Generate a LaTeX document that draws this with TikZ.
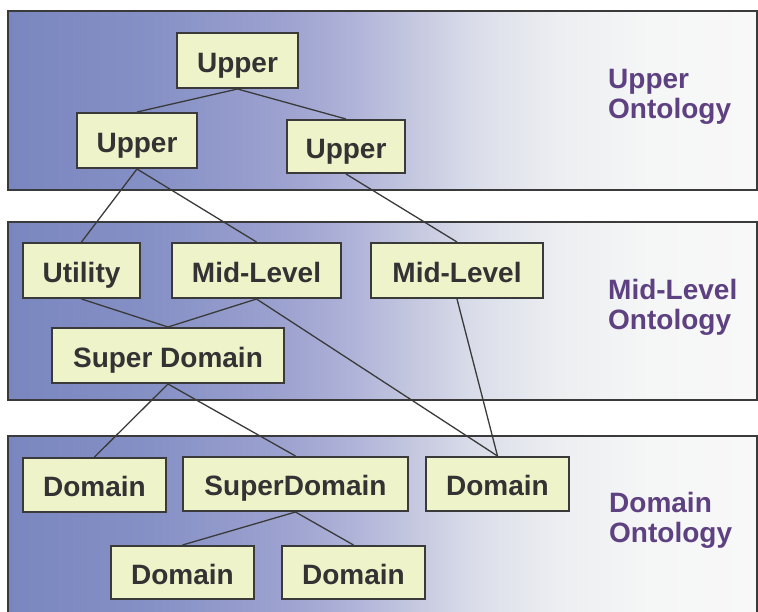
\documentclass[tikz,border=0pt]{standalone}
\usepackage{fontspec}
\setmainfont{Liberation Sans}
\definecolor{bd}{HTML}{3A3A3A}
\definecolor{nodefill}{HTML}{EEF3C9}
\definecolor{txt}{HTML}{333333}
\definecolor{lblc}{HTML}{5E4180}
\definecolor{g0}{HTML}{7A86BF}
\definecolor{g1}{HTML}{8590C5}
\definecolor{g2}{HTML}{9EA3D0}
\definecolor{g3}{HTML}{AFB2D8}
\definecolor{g4}{HTML}{C7CAE0}
\definecolor{g5}{HTML}{DCDFEA}
\definecolor{g6}{HTML}{ECEEF1}
\definecolor{g7}{HTML}{F5F6F6}
\definecolor{g8}{HTML}{F8F8F8}
\pgfdeclarehorizontalshading{bandshade}{100bp}{color(0bp)=(g0); color(25bp)=(g0); color(34.5bp)=(g1); color(43.8bp)=(g2); color(47.8bp)=(g3); color(52.5bp)=(g4); color(56.5bp)=(g5); color(61.8bp)=(g6); color(67.9bp)=(g7); color(75bp)=(g8); color(100bp)=(g8)}
\begin{document}
\begin{tikzpicture}[x=1pt,y=-1pt,
  band/.style={draw=bd, line width=2.5pt, shading=bandshade},
  box/.style={draw=bd, line width=2pt, fill=nodefill, text=txt,
    font=\fontsize{28}{30}\selectfont\bfseries, inner sep=0pt,
    text height=23.4pt, text depth=0pt, minimum height=54pt},
  lbl/.style={text=lblc, font=\fontsize{28}{30}\selectfont\bfseries,
    inner sep=0pt, align=left, anchor=base west},
  conn/.style={draw=bd, line width=1.3pt}]
\useasboundingbox (0,0) rectangle (758,611);
\begin{scope}
  \clip (0,0) rectangle (758,611);
  \path[band] (8,11) rectangle (757,190);
  \path[band] (8,222) rectangle (757,400);
  \path[band] (8,436) rectangle (757,625);
\end{scope}
% upper ontology
\node[box, minimum width=121pt, minimum height=55pt] (u0) at (237.5,60.5) {Upper};
\node[box, minimum width=120pt, minimum height=55pt] (u1) at (137,140.5) {Upper};
\node[box, minimum width=118pt, minimum height=53pt] (u2) at (346,146.5) {Upper};
% mid-level ontology
\node[box, minimum width=117pt, minimum height=55pt] (ut) at (81.5,270.5) {Utility};
\node[box, minimum width=169pt, minimum height=55pt] (m1) at (256.5,270.5) {Mid-Level};
\node[box, minimum width=172pt, minimum height=55pt] (m2) at (457,270.5) {Mid-Level};
\node[box, minimum width=232pt, minimum height=55pt] (sd) at (168,355.5) {Super Domain};
% domain ontology
\node[box, minimum width=143pt] (d1) at (94.5,485) {Domain};
\node[box, minimum width=225pt] (sd2) at (295.5,484) {SuperDomain};
\node[box, minimum width=143pt] (d3) at (497.5,484) {Domain};
\node[box, minimum width=143pt, minimum height=53pt] (d4) at (182.5,572.5) {Domain};
\node[box, minimum width=143pt, minimum height=53pt] (d5) at (353.5,572.5) {Domain};
% connectors
\draw[conn] (u0.south) -- (u1.north);
\draw[conn] (u0.south) -- (u2.north);
\draw[conn] (u1.south) -- (ut.north);
\draw[conn] (u1.south) -- (m1.north);
\draw[conn] (u2.south) -- (m2.north);
\draw[conn] (ut.south) -- (sd.north);
\draw[conn] (m1.south) -- (sd.north);
\draw[conn] (m1.south) -- (d3.north);
\draw[conn] (m2.south) -- (d3.north);
\draw[conn] (sd.south) -- (d1.north);
\draw[conn] (sd.south) -- (sd2.north);
\draw[conn] (sd2.south) -- (d4.north);
\draw[conn] (sd2.south) -- (d5.north);
% labels
\node[lbl] (l1) at (608,118.5) {Upper\\Ontology};
\node[lbl] (l2) at (608,329.5) {Mid-Level\\Ontology};
\node[lbl] (l3) at (609,542.5) {Domain\\Ontology};
\end{tikzpicture}
\end{document}
